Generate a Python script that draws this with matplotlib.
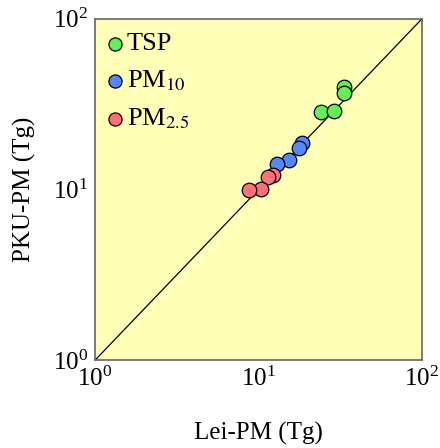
import numpy as np
import matplotlib.pyplot as plt

plt.rcParams['font.family'] = ['Liberation Serif', 'DejaVu Serif']
plt.rcParams['mathtext.fontset'] = 'stix'

# Lei-PM vs PKU-PM emissions (Tg)
tsp_lei = [33.3, 33.3, 24.0, 28.9]
tsp_pku = [40.0, 36.9, 28.3, 28.9]
pm10_lei = [18.4, 17.8, 15.4, 13.0]
pm10_pku = [18.8, 17.6, 14.8, 14.2]
pm25_lei = [12.3, 11.5, 10.4, 8.8]
pm25_pku = [12.1, 11.8, 10.1, 9.9]

labels = ['TSP', 'PM$_{10}$', 'PM$_{2.5}$']
colors = ['#66ee55', '#5588ff', '#ff7077']

fig = plt.figure(figsize=(4.4, 4.48), dpi=100)
ax = fig.add_axes([0.216, 0.196, 0.743, 0.762])
ax.set_facecolor('#ffffb8')

# 1:1 line
ax.plot([1, 100], [1, 100], color='black', lw=0.9, zorder=1)

series = [(tsp_lei, tsp_pku), (pm10_lei, pm10_pku), (pm25_lei, pm25_pku)]
for (x, y), c, lab in zip(series, colors, labels):
    ax.scatter(x, y, s=110, color=c, edgecolor='black', linewidth=0.9,
               label=lab, zorder=3)

ax.set_xscale('log')
ax.set_yscale('log')
ax.set_xlim(1, 100)
ax.set_ylim(1, 100)
ax.set_xticks([1, 10, 100])
ax.set_yticks([1, 10, 100])
ax.minorticks_off()
ax.tick_params(length=0, labelsize=18, pad=5)
for s in ax.spines.values():
    s.set_color('#666666')
    s.set_linewidth(1.2)

ax.set_xlabel('Lei-PM (Tg)', fontsize=18, labelpad=22)
ax.set_ylabel('PKU-PM (Tg)', fontsize=18, labelpad=12)

leg = ax.legend(loc='upper left', bbox_to_anchor=(-0.016, 1.0), frameon=False,
                fontsize=19, markerscale=0.9, handletextpad=0.0,
                borderaxespad=0.0, labelspacing=0.5, handlelength=0.9,
                borderpad=0.5)

fig.savefig('out.png', dpi=100)
